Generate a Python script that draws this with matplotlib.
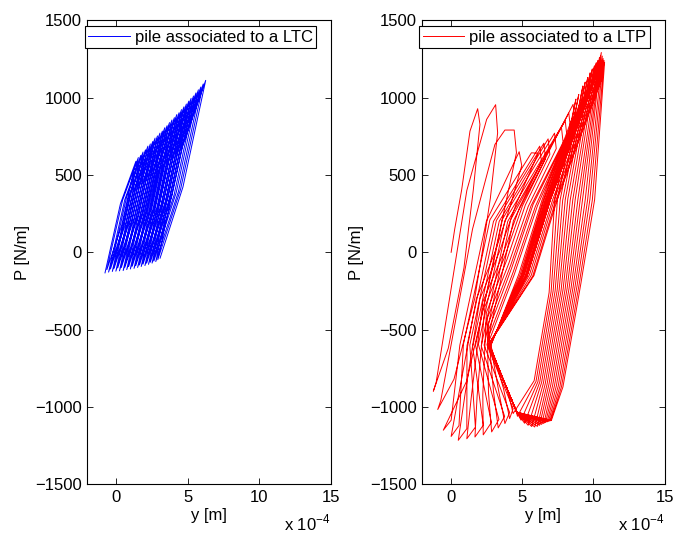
import numpy as np
import matplotlib
matplotlib.use("Agg")
import matplotlib.pyplot as plt

plt.rcParams["font.family"] = ["Liberation Sans", "DejaVu Sans"]
plt.rcParams["mathtext.fontset"] = "custom"
plt.rcParams["mathtext.rm"] = "Liberation Sans"
plt.rcParams["font.size"] = 12

# ----------------------------------------------------------------------
# P-y loops (y in units of 1e-4 m, P in N/m)
# each cycle: valley -> loading point(s) -> peak -> unloading point(s)
# ----------------------------------------------------------------------

# pile associated to a LTC (blue)
blue_valley_x = [-0.77, -0.64, -0.52, -0.39, -0.26, -0.14, -0.01, 0.12, 0.24, 0.37, 0.50,
                 0.62, 0.75, 0.88, 1.00, 1.13, 1.26, 1.38, 1.51, 1.64, 1.76, 1.89, 2.02,
                 2.14, 2.27, 2.40, 2.52, 2.65, 2.78, 2.92, 3.08]
blue_valley_p = [-133, -112, -128, -108, -124, -104, -122, -100, -120, -98, -118, -96, -112,
                 -92, -108, -90, -104, -86, -98, -82, -92, -76, -86, -70, -78, -64, -70,
                 -56, -60, -48, -38]
blue_load_x = [0.31, 0.46, 0.61, 0.75, 0.90, 1.05, 1.20, 1.35, 1.49, 1.64, 1.79, 1.93, 2.08,
               2.23, 2.37, 2.52, 2.67, 2.82, 2.96, 3.11, 3.26, 3.41, 3.56, 3.70, 3.85, 4.00,
               4.14, 4.29, 4.44, 4.60]
blue_load_p = [314, 337, 339, 361, 363, 386, 388, 406, 412, 429, 433, 449, 457, 472, 479,
               496, 500, 519, 522, 540, 548, 565, 573, 590, 597, 614, 624, 641, 652, 671]
blue_peak_x = [1.39, 1.56, 1.73, 1.89, 2.06, 2.23, 2.40, 2.57, 2.73, 2.90, 3.07, 3.24, 3.41,
               3.57, 3.74, 3.91, 4.08, 4.25, 4.41, 4.58, 4.75, 4.92, 5.09, 5.25, 5.42, 5.59,
               5.76, 5.93, 6.10, 6.27]
blue_peak_p = [588, 612, 626, 648, 662, 686, 700, 716, 738, 752, 770, 783, 805, 818, 838,
               855, 870, 890, 902, 922, 940, 958, 977, 995, 1010, 1030, 1050, 1068, 1088, 1111]
blue_unload_x = [0.38, 0.52, 0.67, 0.82, 0.96, 1.11, 1.26, 1.41, 1.55, 1.70, 1.85, 2.00, 2.15,
                 2.29, 2.44, 2.59, 2.73, 2.88, 3.03, 3.17, 3.32, 3.47, 3.62, 3.76, 3.91, 4.06,
                 4.21, 4.36, 4.51, 4.68]
blue_unload_p = [168, 168, 186, 185, 202, 201, 220, 214, 236, 230, 250, 246, 267, 262, 281,
                 280, 296, 297, 312, 314, 330, 332, 349, 351, 366, 370, 386, 391, 406, 422]

# pile associated to a LTP (red)
red_valley_x = [0.03, -1.22, -0.91, -0.52, 0.03, 0.53, 1.13, 1.70, 2.28, 2.87, 3.33, 3.80,
                4.13, 4.38, 4.68, 4.93, 5.18, 5.43, 5.68, 5.89, 6.08, 6.23, 6.38, 6.53, 6.65,
                6.76, 6.86, 6.95, 7.02, 7.06, 5.83]
red_valley_p = [0, -898, -1016, -1150, -1190, -1215, -1205, -1194, -1180, -1161, -1135, -1107,
                -1075, -1042, -1060, -1085, -1105, -1118, -1126, -1129, -1125, -1118, -1112,
                -1106, -1100, -1096, -1092, -1090, -1088, -1086, -1110]
red_hook_x = [0.28, -1.02, -0.69, 0.03, 0.58, 1.13, 1.73, 2.28, 2.85, 3.38, 3.78, 4.13, 4.38,
              5.85, 5.98, 6.11, 6.24, 6.37, 6.50, 6.63, 6.76, 6.89, 7.02, 7.15, 7.28, 7.41,
              7.54, 7.66, 7.77, 7.87]
red_hook_p = [150, -840, -955, -1085, -1120, -1140, -1130, -1118, -1100, -1080, -1060, -1035,
              -1010, -830, -835, -838, -840, -842, -845, -848, -850, -852, -855, -858, -860,
              -862, -864, -866, -868, -870]
red_mid_x = [0.77, 1.13, 1.53, 0.64, 0.89, 1.14, 1.34, 1.54, 1.74, 1.94, 2.14, 2.34, 2.54,
             6.90, 7.04, 7.18, 7.32, 7.46, 7.60, 7.74, 7.88, 8.02, 8.16, 8.30, 8.44, 8.58,
             8.72, 8.86, 9.00, 9.13]
red_mid_p = [405, 400, 150, -600, -595, -605, -600, -610, -600, -595, -605, -600, -598,
             -260, -255, -250, -250, -248, -245, -245, -240, -240, -235, -232, -230, -225,
             -220, -215, -210, -200]
red_upper_x = [1.35, 2.52, 3.10, 2.50, 2.75, 3.00, 3.20, 3.40, 3.60, 3.80, 4.00, 4.20, 4.40,
               7.29, 7.48, 7.68, 7.85, 8.03, 8.21, 8.38, 8.56, 8.73, 8.91, 9.08, 9.25, 9.43,
               9.60, 9.76, 9.93, 10.09]
red_upper_p = [783, 859, 697, 200, 210, 200, 205, 200, 210, 205, 200, 210, 205, 340, 338,
               342, 336, 340, 344, 338, 340, 342, 336, 340, 345, 338, 340, 342, 338, 340]
red_peak_x = [1.89, 3.15, 3.80, 4.80, 5.66, 6.24, 6.53, 6.83, 7.28, 7.76, 8.03, 8.28, 8.58,
              8.78, 8.98, 9.27, 9.43, 9.61, 9.78, 9.93, 10.08, 10.21, 10.33, 10.43, 10.51,
              10.56, 10.63, 10.69, 10.75, 10.79]
red_peak_p = [928, 954, 790, 650, 643, 686, 705, 733, 770, 811, 850, 900, 956, 990, 1020,
              1075, 1100, 1130, 1160, 1185, 1205, 1225, 1240, 1258, 1272, 1291, 1268, 1252,
              1240, 1228]
red_drop_x = [2.05, 3.29, 4.45, 4.98, 6.13, 6.36, 6.65, 6.95, 7.40, 7.88, 8.15, 8.40, 8.70,
              8.53, 8.73, 9.02, 9.18, 9.36, 9.53, 9.68, 9.83, 9.96, 10.08, 10.18, 10.26,
              10.31, 10.38, 10.44, 10.50, 10.54]
red_drop_p = [826, 772, 790, 560, 640, 586, 605, 633, 670, 711, 750, 800, 856, 870, 900,
              955, 980, 1010, 1040, 1065, 1085, 1105, 1120, 1138, 1152, 1171, 1148, 1132,
              1120, 1108]
red_band_x = [1.58, 2.78, 4.61, 4.18, 4.58, 4.83, 5.03, 5.23, 5.43, 5.63, 5.78, 5.93, 6.08,
              6.41, 6.49, 6.56, 6.62, 6.68, 6.73, 6.78, 6.85, 6.90, 6.96, 6.99, 7.01, 6.99,
              7.15, 7.27, 7.38, 7.47]
red_band_p = [400, 350, 643, 300, 310, 290, 300, 305, 295, 300, 310, 295, 300, 340, 338,
              342, 336, 340, 344, 338, 340, 342, 336, 340, 345, 338, 340, 342, 338, 340]
red_bend_x = [1.25, 2.25, 3.75, 3.10, 3.40, 3.65, 3.80, 3.95, 4.08, 4.20, 4.28, 4.37, 4.45,
              4.78, 4.86, 4.93, 4.99, 5.05, 5.10, 5.15, 5.22, 5.27, 5.33, 5.36, 5.38, 5.36,
              5.52, 5.64, 5.75, 5.84]
red_bend_p = [150, 25, 270, 0, 0, -15, -25, -45, -70, -85, -100, -130, -145, -140, -145,
              -150, -148, -152, -150, -146, -150, -154, -150, -148, -152, -150, -146, -150,
              -154, -150]
red_knee_x = [0.93, 1.68, 2.93, 1.80, 2.05, 2.25, 2.40, 2.50, 2.55, 2.60, 2.62, 2.64, 2.66,
              2.78, 2.76, 2.75, 2.73, 2.72, 2.71, 2.70, 2.69, 2.68, 2.67, 2.67, 2.66, 2.65,
              2.65, 2.64, 2.64, 2.63]
red_knee_p = [-100, -300, -100, -300, -300, -320, -350, -390, -430, -470, -510, -550, -580,
              -612, -610, -609, -608, -607, -606, -605, -604, -603, -603, -602, -602, -601,
              -601, -600, -600, -600]
red_cross_x = [-0.17, 0.23, 1.13, 0.60, 1.00, 1.45, 1.85, 2.25, 2.65, 3.00, 3.35, 3.70, 4.00,
               4.57, 4.58, 4.59, 4.60, 4.61, 4.61, 4.62, 4.62, 4.63, 4.63, 4.63, 4.64, 4.64,
               4.64, 4.65, 4.65, 4.65]
red_cross_p = [-620, -820, -830, -900, -920, -930, -930, -920, -910, -900, -890, -880, -900,
               -1022, -1025, -1027, -1028, -1030, -1030, -1031, -1031, -1032, -1032, -1033,
               -1033, -1033, -1034, -1034, -1034, -1035]

x_ticks = [0, 5, 10, 15]
y_ticks = [-1500, -1000, -500, 0, 500, 1000, 1500]
labels = ["pile associated to a LTC", "pile associated to a LTP"]


def chain(valley_x, valley_p, parts_x, parts_p):
    """Join valley -> parts of each cycle -> next valley into one polyline."""
    xs, ps = [], []
    for k in range(len(parts_x[0])):
        xs.append(valley_x[k]); ps.append(valley_p[k])
        for ax_, ap_ in zip(parts_x, parts_p):
            xs.append(ax_[k]); ps.append(ap_[k])
    xs.append(valley_x[-1]); ps.append(valley_p[-1])
    return np.array(xs), np.array(ps)


blue_x, blue_p = chain(blue_valley_x, blue_valley_p,
                       [blue_load_x, blue_peak_x, blue_unload_x],
                       [blue_load_p, blue_peak_p, blue_unload_p])
red_x, red_p = chain(red_valley_x, red_valley_p,
                     [red_hook_x, red_mid_x, red_upper_x, red_peak_x, red_drop_x,
                      red_band_x, red_bend_x, red_knee_x, red_cross_x],
                     [red_hook_p, red_mid_p, red_upper_p, red_peak_p, red_drop_p,
                      red_band_p, red_bend_p, red_knee_p, red_cross_p])

fig = plt.figure(figsize=(6.74, 5.34), dpi=100)
ax1 = fig.add_axes([0.1297, 0.0929, 0.3607, 0.8693])
ax2 = fig.add_axes([0.6264, 0.0929, 0.3597, 0.8693])

for ax, x, p, col, lab in [(ax1, blue_x, blue_p, "#0000ff", labels[0]),
                           (ax2, red_x, red_p, "#ff0000", labels[1])]:
    ax.plot(x, p, color=col, lw=0.7, label=lab)
    ax.set_xlim(-2, 15)
    ax.set_ylim(-1500, 1500)
    ax.set_xticks(x_ticks)
    ax.set_yticks(y_ticks)
    ax.tick_params(direction="in", top=True, right=True, length=4.5, width=0.6,
                   labelsize=12, pad=4)
    for s in ax.spines.values():
        s.set_linewidth(0.8)
    ax.set_xlabel("y [m]", fontsize=12, labelpad=2)
    ax.set_ylabel("P [N/m]", fontsize=12, labelpad=4)
    ax.text(1.0, -0.083, r"x 10$^{-4}$", transform=ax.transAxes, ha="right",
            va="center", fontsize=12)
    leg = ax.legend(loc="upper left", bbox_to_anchor=(-0.012, 0.987), borderaxespad=0,
                    fancybox=False, edgecolor="black", framealpha=1, fontsize=12,
                    handlelength=2.5, handletextpad=0.3, borderpad=0.2)
    leg.get_frame().set_linewidth(0.8)

fig.savefig("out.png", dpi=100)
